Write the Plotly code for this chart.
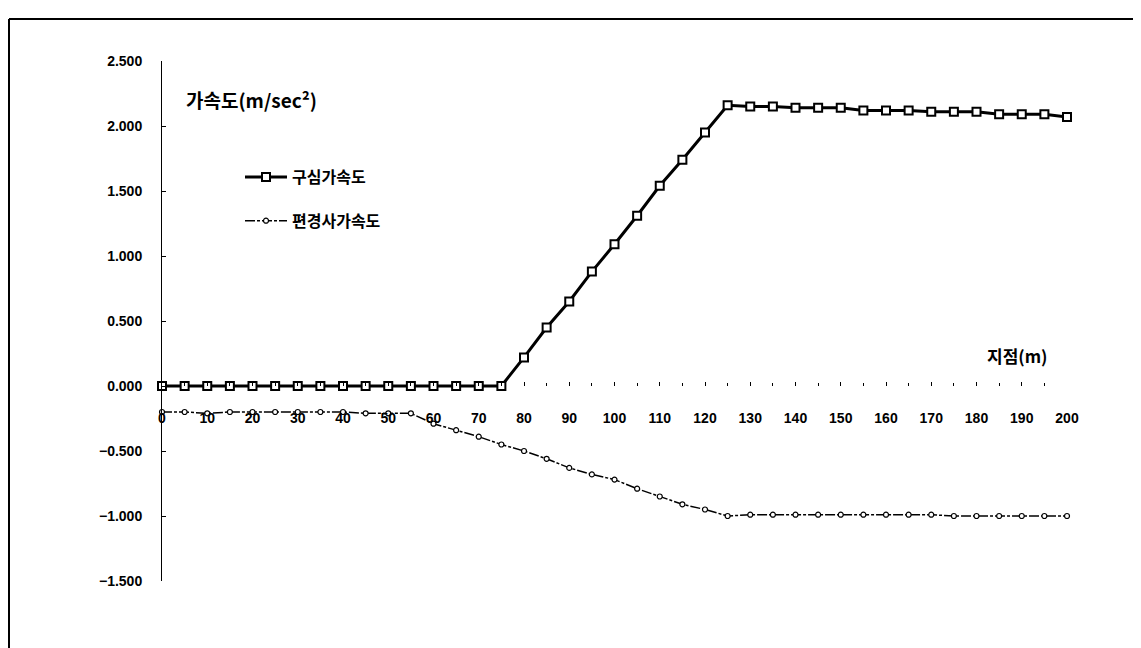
import plotly.graph_objects as go

# ---- data ----
stations = list(range(0, 205, 5))  # 지점 (m)

centripetal = [0.00] * 16 + [
    0.22, 0.45, 0.65, 0.88, 1.09, 1.31, 1.54, 1.74, 1.95, 2.16,
    2.15, 2.15, 2.14, 2.14, 2.14, 2.12, 2.12, 2.12, 2.11, 2.11,
    2.11, 2.09, 2.09, 2.09, 2.07,
]

superelev = [
    -0.20, -0.20, -0.21, -0.20, -0.20, -0.20, -0.20, -0.20, -0.20, -0.21, -0.21, -0.21,
    -0.29, -0.34, -0.39, -0.45, -0.50, -0.56, -0.63, -0.68, -0.72, -0.79, -0.85, -0.91,
    -0.95, -1.00,
    -0.99, -0.99, -0.99, -0.99, -0.99, -0.99, -0.99, -0.99, -0.99,
    -1.00, -1.00, -1.00, -1.00, -1.00, -1.00,
]

series_names = ["구심가속도", "편경사가속도"]
y_ticks = [2.5, 2.0, 1.5, 1.0, 0.5, 0.0, -0.5, -1.0, -1.5]
x_ticks = list(range(0, 210, 10))
y_title = "가속도(m/sec²)"
x_title = "지점(m)"

FONT = "Noto Sans CJK KR, Liberation Sans, sans-serif"

fig = go.Figure()
fig.add_trace(go.Scatter(
    x=stations, y=centripetal, name=series_names[0], legendgroup="a",
    mode="lines+markers", cliponaxis=False,
    line=dict(color="black", width=3),
    marker=dict(symbol="square", size=8, color="white", line=dict(color="black", width=2)),
))
fig.add_trace(go.Scatter(
    x=stations, y=superelev, name=series_names[1], legendgroup="b",
    mode="lines+markers", cliponaxis=False,
    line=dict(color="black", width=1.5, dash="10px,2px,3px,2px"),
    marker=dict(symbol="circle", size=5, color="white", line=dict(color="black", width=1.2)),
))

# page body adds an 8px offset; compensate so plot lands where the reference has it
OFF = 8
W, H = 1141, 648
L, T = 162 - OFF, 61 - OFF
pw, ph = 905, 520
R, B = W - L - pw, H - T - ph


def px_x(x):  # screen x -> paper
    return (x - OFF - L) / pw


def px_y(y):  # screen y -> paper
    return (T + ph - (y - OFF)) / ph


fig.update_layout(
    width=W, height=H,
    margin=dict(l=L, r=R, t=T, b=B),
    paper_bgcolor="white", plot_bgcolor="white",
    font=dict(family=FONT, color="black"),
    showlegend=True,
    legend=dict(
        x=px_x(240), y=px_y(160), xanchor="left", yanchor="top",
        bgcolor="rgba(0,0,0,0)", tracegroupgap=20, itemwidth=42,
        font=dict(family=FONT, size=16, weight="bold"),
    ),
    xaxis=dict(
        range=[0, 200], anchor="free", position=1.5 / 4.0,
        showgrid=False, zeroline=False, showline=False,
        tickvals=x_ticks, ticks="inside", ticklen=4, tickcolor="black",
        minor=dict(dtick=5, ticks="inside", ticklen=3, tickcolor="black"),
        ticklabelstandoff=22,
        tickfont=dict(family="Liberation Sans", size=14, weight="bold"),
    ),
    yaxis=dict(
        range=[-1.5, 2.5], tickvals=y_ticks, tickformat=".3f",
        showgrid=False, zeroline=False, showline=True, linecolor="black", linewidth=1,
        ticks="inside", ticklen=4, tickcolor="black",
        ticklabelstandoff=16,
        tickfont=dict(family="Liberation Sans", size=14, weight="bold"),
    ),
    annotations=[
        dict(text=y_title, xref="paper", yref="paper",
             x=px_x(184), y=px_y(100), xanchor="left", yanchor="middle",
             showarrow=False, font=dict(family=FONT, size=19, weight="bold")),
        dict(text=x_title, xref="paper", yref="paper",
             x=px_x(1050), y=px_y(355), xanchor="right", yanchor="middle",
             showarrow=False, font=dict(family=FONT, size=17, weight="bold")),
    ],
    shapes=[
        dict(type="line", xref="paper", yref="paper",
             x0=px_x(9), x1=px_x(W + 10), y0=px_y(19), y1=px_y(19),
             line=dict(color="black", width=2)),
        dict(type="line", xref="paper", yref="paper",
             x0=px_x(9), x1=px_x(9), y0=px_y(19), y1=px_y(H + 10),
             line=dict(color="black", width=2)),
    ],
)

fig.write_html("out.html")
